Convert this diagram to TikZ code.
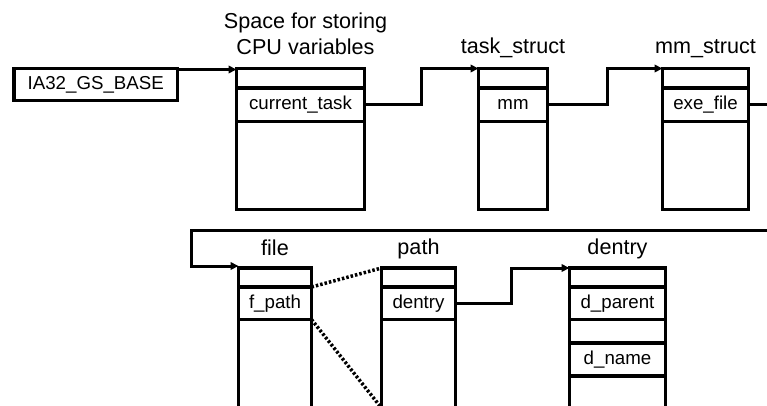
\documentclass[tikz,border=0pt]{standalone}
\usepackage{fontspec}
\setmainfont{Liberation Sans}
\usetikzlibrary{arrows.meta,positioning}

\begin{document}
\begin{tikzpicture}[x=1pt,y=-1pt,
    field/.style={draw, line width=3.5pt, inner sep=0pt, outer sep=0pt,
      font=\fontsize{18.7}{22}\selectfont},
    title/.style={inner sep=0pt, anchor=south, text depth=0pt, align=center,
      font=\fontsize{21.6}{26}\selectfont},
    link/.style={line width=3pt, -{Triangle[length=8pt,width=7.5pt]}},
    expand/.style={line width=3.5pt, dash pattern=on 2.5pt off 2pt}]
        \useasboundingbox (0,0) rectangle (767,406);
        \clip (0,0) rectangle (767,406);

        % IA32_GS_BASE
        \node[field, anchor=north west, minimum width=163.5pt, minimum height=32pt] (gsbase) at (14,68.5) {IA32\_GS\_BASE};

        % per-cpu space
        \node[field, anchor=north west, minimum width=128pt, minimum height=19.5pt] (cpu0) at (236.5,68.5) {};
        \node[field, below=0pt of cpu0, minimum width=128pt, minimum height=33.5pt] (cpu1) {current\_task};
        \node[field, below=0pt of cpu1, minimum width=128pt, minimum height=88pt] (cpu2) {};
        \node[title] (cputitle) at ([xshift=5pt,yshift=14pt]cpu0.north) {Space for storing\\CPU variables};

        % task_struct
        \node[field, anchor=north west, minimum width=69pt, minimum height=19.5pt] (task0) at (478.5,68.5) {};
        \node[field, below=0pt of task0, minimum width=69pt, minimum height=33.5pt] (task1) {mm};
        \node[field, below=0pt of task1, minimum width=69pt, minimum height=88pt] (task2) {};
        \node[title] (tasktitle) at ([yshift=15pt]task0.north) {task\_struct};

        % mm_struct
        \node[field, anchor=north west, minimum width=86pt, minimum height=19.5pt] (mm0) at (662.5,68.5) {};
        \node[field, below=0pt of mm0, minimum width=86pt, minimum height=33.5pt] (mm1) {exe\_file};
        \node[field, below=0pt of mm1, minimum width=86pt, minimum height=88pt] (mm2) {};
        \node[title] (mmtitle) at ([yshift=15pt]mm0.north) {mm\_struct};

        % file
        \node[field, anchor=north west, minimum width=73pt, minimum height=19pt] (file0) at (238.5,268) {};
        \node[field, below=0pt of file0, minimum width=73pt, minimum height=32.5pt] (file1) {f\_path};
        \node[field, below=0pt of file1, minimum width=73pt, minimum height=88.5pt] (file2) {};
        \node[title] (filetitle) at ([yshift=12pt]file0.north) {file};

        % path
        \node[field, anchor=north west, minimum width=74pt, minimum height=19pt] (path0) at (381.5,268) {};
        \node[field, below=0pt of path0, minimum width=74pt, minimum height=32.5pt] (path1) {dentry};
        \node[field, below=0pt of path1, minimum width=74pt, minimum height=88.5pt] (path2) {};
        \node[title] (pathtitle) at ([yshift=13pt]path0.north) {path};

        % dentry
        \node[field, anchor=north west, minimum width=96pt, minimum height=19pt] (dent0) at (569.5,268) {};
        \node[field, below=0pt of dent0, minimum width=96pt, minimum height=32.5pt] (dent1) {d\_parent};
        \node[field, below=0pt of dent1, minimum width=96pt, minimum height=23.5pt] (dent2) {};
        \node[field, below=0pt of dent2, minimum width=96pt, minimum height=33pt] (dent3) {d\_name};
        \node[field, below=0pt of dent3, minimum width=96pt, minimum height=32pt] (dent4) {};
        \node[title] (denttitle) at ([yshift=13pt]dent0.north) {dentry};

        % pointers
        \coordinate (wrapout) at (790,0);
        \coordinate (wrapin) at (790,230);
        \coordinate (wrapturn) at (191.5,230);
        \draw[link] ([yshift=-1pt]gsbase.north east) -- ([yshift=-1pt]cpu0.north west);
        \draw[link] (cpu1.east) -- ++(57,0) |- (task0.north west);
        \draw[link] (task1.east) -- ++(60,0) |- (mm0.north west);
        \draw[line width=3pt] (mm1.east) -- (mm1.east -| wrapout);
        \draw[link] (wrapin) -- (wrapturn) |- ([yshift=2pt]file0.north west);
        \draw[link] (path1.east) -- ++(56,0) |- (dent0.north west);

        % f_path is a path
        \draw[expand] (file1.north east) -- (path0.north west);
        \draw[expand] (file1.south east) -- (path2.south west);
\end{tikzpicture}
\end{document}
